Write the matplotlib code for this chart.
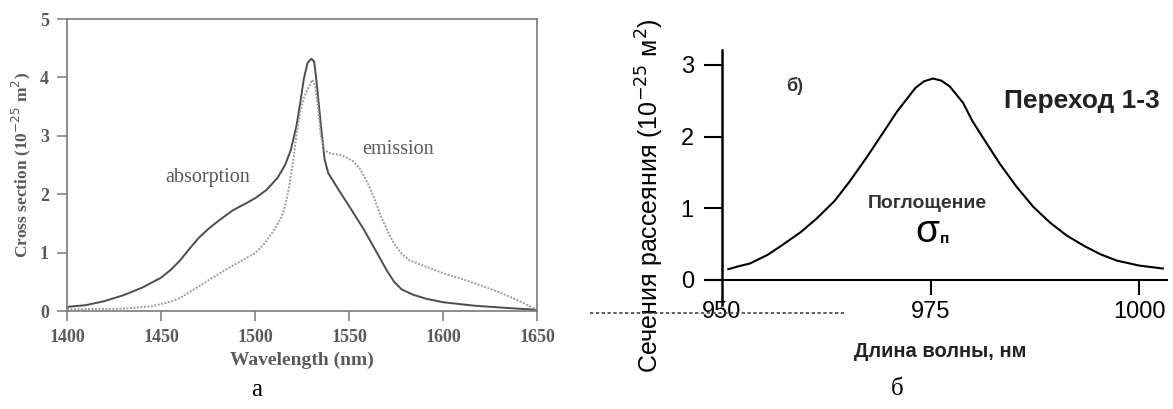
import matplotlib
matplotlib.use('Agg')
import matplotlib.pyplot as plt
from matplotlib.lines import Line2D

# panel a: Er absorption / emission cross sections
abs_wl = [1400, 1410, 1420, 1430, 1440, 1450, 1455, 1460, 1465, 1470, 1475, 1480,
          1488, 1495, 1500, 1506, 1512, 1516, 1519, 1522, 1524, 1526, 1528, 1530,
          1531.5, 1533, 1535, 1537, 1539, 1544, 1550, 1558, 1565, 1570, 1574,
          1578, 1584, 1591, 1600, 1617, 1635, 1650]
abs_cs = [0.07, 0.1, 0.17, 0.27, 0.4, 0.57, 0.7, 0.86, 1.06, 1.25, 1.4, 1.53,
          1.72, 1.84, 1.93, 2.07, 2.28, 2.5, 2.75, 3.16, 3.55, 3.98, 4.25, 4.32,
          4.27, 3.85, 3.2, 2.6, 2.36, 2.1, 1.8, 1.39, 0.99, 0.7, 0.5,
          0.37, 0.28, 0.21, 0.15, 0.09, 0.05, 0.02]

em_wl = [1400, 1430, 1445, 1455, 1460, 1470, 1484, 1500, 1505, 1510, 1514, 1516,
         1518, 1520, 1522, 1524, 1526, 1528, 1530.5, 1532, 1533.5, 1535, 1537,
         1540, 1546, 1552, 1556, 1560, 1564, 1567, 1570, 1574, 1578, 1582, 1590,
         1600, 1610, 1620, 1630, 1640, 1650]
em_cs = [0.03, 0.04, 0.08, 0.16, 0.22, 0.42, 0.7, 0.99, 1.15, 1.38, 1.6, 1.8,
         2.1, 2.5, 3.0, 3.4, 3.65, 3.8, 3.96, 3.85, 3.5, 3.0, 2.75,
         2.7, 2.67, 2.57, 2.43, 2.19, 1.88, 1.62, 1.4, 1.15, 0.98, 0.87, 0.77,
         0.65, 0.55, 0.44, 0.32, 0.18, 0.02]

a_xticks = [1400, 1450, 1500, 1550, 1600, 1650]
a_yticks = [0, 1, 2, 3, 4, 5]

# panel b: transition 1-3 absorption
b_wl = [950.8, 952, 953.4, 955.5, 957.3, 959.5, 961.4, 963.5, 965.3, 967.3, 969.3,
        971, 972.2, 973.2, 974.2, 975.3, 976.3, 977.3, 978.9, 980, 981.3, 983.3,
        985.3, 987.3, 989.3, 991.3, 993.3, 995.3, 997.3, 1000, 1002.8]
b_cs = [0.15, 0.19, 0.23, 0.35, 0.49, 0.67, 0.86, 1.1, 1.37, 1.7, 2.05,
        2.35, 2.53, 2.68, 2.77, 2.81, 2.78, 2.7, 2.47, 2.22, 1.98, 1.62,
        1.3, 1.02, 0.8, 0.62, 0.48, 0.36, 0.27, 0.2, 0.16]

b_xticks = [950, 975, 1000]
b_yticks = [0, 1, 2, 3]

serif = 'Liberation Serif'
sans = 'Liberation Sans'
gray_txt = '#5a5a5a'

fig = plt.figure(figsize=(11.73, 4.09), dpi=100)

# ---- panel a ----
ax1 = fig.add_axes([0.0571, 0.2396, 0.4007, 0.7139])
ax1.plot(abs_wl, abs_cs, color='#4d4d4d', lw=1.4)
ax1.plot(em_wl, em_cs, color='#9c9c9c', lw=1.4, ls=(0, (1, 0.8)))
ax1.set_xlim(1400, 1650)
ax1.set_ylim(0, 5)
ax1.set_xticks(a_xticks)
ax1.set_yticks(a_yticks)
for s in ax1.spines.values():
    s.set_color('#7a7a7a')
    s.set_linewidth(1.2)
ax1.tick_params(direction='out', length=7, width=1.1, color='#7a7a7a',
                labelcolor=gray_txt, labelsize=13, pad=6)
for lab in ax1.get_xticklabels() + ax1.get_yticklabels():
    lab.set_family(serif)
    lab.set_fontweight('bold')
ax1.set_xlabel('Wavelength (nm)', family=serif, fontsize=14, fontweight='bold',
               color=gray_txt)
ax1.set_ylabel('Cross section (10$^{-25}$ m$^{2}$)', family=serif, fontsize=12.5,
               fontweight='bold', color=gray_txt)
ax1.xaxis.set_label_coords(0.5, -0.14)
ax1.yaxis.set_label_coords(-0.072, 0.5)
ax1.text(1475, 2.28, 'absorption', family=serif, fontsize=14.5, color=gray_txt,
         ha='center', va='center')
ax1.text(1576, 2.76, 'emission', family=serif, fontsize=14.5, color=gray_txt,
         ha='center', va='center')

# ---- panel b ----
ax2 = fig.add_axes([0.6027, 0.2543, 0.3922, 0.6235])
ax2.plot(b_wl, b_cs, color='black', lw=1.5)
ax2.set_xlim(948.25, 1003.3)
ax2.set_ylim(-0.349, 3.208)
ax2.spines['top'].set_visible(False)
ax2.spines['right'].set_visible(False)
ax2.spines['left'].set_position(('data', 950))
ax2.spines['bottom'].set_position(('data', 0))
ax2.spines['left'].set_linewidth(1.8)
ax2.spines['bottom'].set_linewidth(1.5)
ax2.set_xticks(b_xticks)
ax2.set_yticks(b_yticks)
ax2.tick_params(axis='y', direction='out', length=13, width=1.5, labelsize=17, pad=7)
ax2.tick_params(axis='x', direction='out', length=11, width=1.5, labelsize=17, pad=4)
ax2.xaxis.get_major_ticks()[0].tick1line.set_visible(False)
for lab in ax2.get_xticklabels() + ax2.get_yticklabels():
    lab.set_family(sans)
ax2.set_xlabel('Длина волны, нм', family=sans, fontsize=14.5, fontweight='bold',
               color='#222222')
ax2.set_ylabel('Сечения рассеяния (10$^{-25}$ м$^{2}$)', family=sans, fontsize=18)
ax2.xaxis.set_label_coords(0.507, -0.145)
ax2.yaxis.set_label_coords(-0.09, 0.43)
ax2.text(958.7, 2.7, 'б)', family=sans, fontsize=13, fontweight='bold',
         ha='center', va='center', color='#333333')
ax2.text(993.1, 2.5, 'Переход 1-3', family=sans, fontsize=19, fontweight='bold',
         ha='center', va='center', color='#222222')
ax2.text(974.6, 1.07, 'Поглощение', family=sans, fontsize=14, fontweight='bold',
         ha='center', va='center', color='#333333')
ax2.text(974.6, 0.67, 'σ', family=sans, fontsize=28,
         ha='center', va='center')
ax2.text(976.7, 0.57, 'п', family=sans, fontsize=11, fontweight='bold',
         ha='center', va='center')

# dashed scan line left of panel b
fig.add_artist(Line2D([590 / 1173, 845 / 1173], [1 - 313 / 409, 1 - 313 / 409],
                      transform=fig.transFigure, color='#444444', lw=1.2,
                      ls=(0, (2, 1.5))))

# captions
fig.text(257 / 1173, 1 - 390 / 409, 'а', family=serif, fontsize=18,
         ha='center', va='center')
fig.text(897 / 1173, 1 - 389 / 409, 'б', family=serif, fontsize=18,
         ha='center', va='center')

fig.savefig('out.png', dpi=100)
